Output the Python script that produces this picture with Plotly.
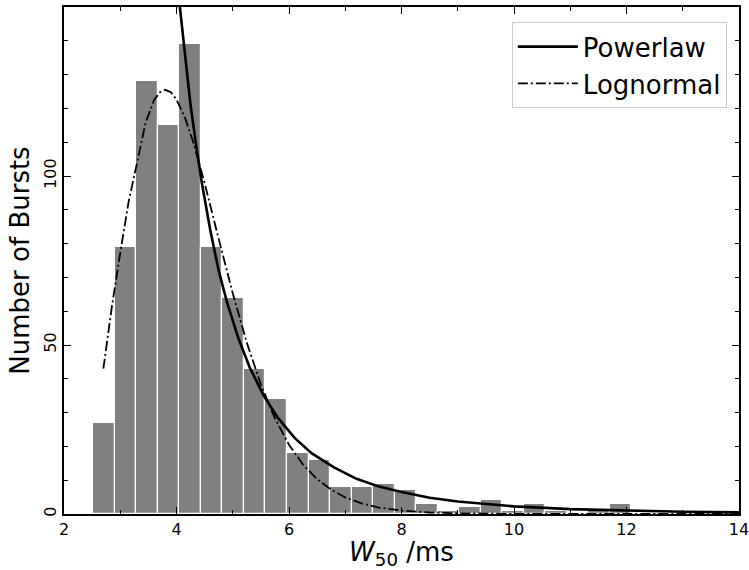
import numpy as np
import plotly.graph_objects as go

# Histogram: 30 equal bins from 2.52 to 14.0 ms
bin_lo = 2.52
bin_hi = 14.0
counts = [27, 79, 128, 115, 139, 79, 64, 43, 34, 18,
          16, 8, 8, 9, 7, 3, 1, 2, 4, 1,
          3, 1, 0, 1, 3, 0, 0, 0, 0, 1]

# Powerlaw fit curve
pl_x = [4.06, 4.15, 4.25, 4.35, 4.45, 4.6, 4.75, 4.9, 5.1, 5.3, 5.55, 5.8,
        6.1, 6.4, 6.8, 7.2, 7.6, 8.0, 8.5, 9.0, 9.5, 10.0, 11.0, 12.0, 13.0, 14.0]
pl_y = [150, 135.6, 121, 109, 98, 84, 72, 62.5, 52, 43.4, 35, 28.5,
        22.5, 18.0, 13.8, 10.4, 8.1, 6.5, 4.8, 3.7, 2.9, 2.25, 1.45, 0.97, 0.66, 0.47]

# Lognormal fit curve
ln_x = [2.70, 2.85, 3.0, 3.15, 3.3, 3.45, 3.6, 3.7, 3.8, 3.9, 4.0, 4.15, 4.3,
        4.5, 4.75, 5.0, 5.25, 5.5, 5.75, 6.0, 6.25, 6.5, 6.75, 7.0, 7.3, 7.6,
        8.0, 8.5, 9.0, 9.5, 10.0, 11.0, 12.0, 13.0, 14.0]
ln_y = [43, 61.2, 77.3, 92.5, 104, 115.7, 122.4, 124.7, 125.5, 124.8, 122.6, 117.3, 109.9,
        97.9, 81.4, 65.3, 50.7, 38.3, 28.3, 20.5, 14.6, 10.3, 7.2, 4.9, 3.1, 1.9,
        1.0, 0.45, 0.2, 0.085, 0.035, 0.01, 0.0, 0.0, 0.0]

x_ticks = [2, 4, 6, 8, 10, 12, 14]
y_ticks = [0, 50, 100]

edges = np.linspace(bin_lo, bin_hi, len(counts) + 1)
centers = (edges[:-1] + edges[1:]) / 2
widths = np.diff(edges)

FONT = "DejaVu Sans"

fig = go.Figure()
fig.add_trace(go.Bar(
    x=centers, y=counts, width=widths,
    marker=dict(color="#808080", line=dict(color="white", width=1.2)),
    showlegend=False, hoverinfo="skip",
))
fig.add_trace(go.Scatter(
    x=pl_x, y=pl_y, mode="lines", name="Powerlaw",
    line=dict(color="black", width=2.6),
))
fig.add_trace(go.Scatter(
    x=ln_x, y=ln_y, mode="lines", name="Lognormal",
    line=dict(color="black", width=1.8, dash="10px,3px,2px,3px"),
))

axis_common = dict(
    showline=True, linecolor="black", linewidth=1.5, mirror="ticks",
    ticks="inside", ticklen=7, tickwidth=1.3, tickcolor="black",
    showgrid=False, zeroline=False, ticklabeloverflow="allow",
    tickfont=dict(family=FONT, size=16, color="black"),
)

fig.update_layout(
    width=749, height=570,
    margin=dict(l=64, r=10, t=7, b=56, autoexpand=False),
    paper_bgcolor="white", plot_bgcolor="white",
    font=dict(family=FONT, color="black"),
    bargap=0,
    xaxis=dict(
        range=[2, 14.0001], tickvals=x_ticks,
        minor=dict(dtick=1, tick0=0, ticks="inside", ticklen=4, tickwidth=1.2, tickcolor="black"),
        title=dict(text="<i>W</i><sub>50</sub> /ms", font=dict(family=FONT, size=26), standoff=12),
        **axis_common,
    ),
    yaxis=dict(
        range=[0, 150], tickvals=y_ticks, tickangle=-90,
        minor=dict(dtick=10, tick0=0, ticks="inside", ticklen=4, tickwidth=1.2, tickcolor="black"),
        title=dict(text="Number of Bursts", font=dict(family=FONT, size=26), standoff=4),
        **axis_common,
    ),
    legend=dict(
        x=0.982, y=0.97, xanchor="right", yanchor="top",
        bgcolor="rgba(255,255,255,0.8)", bordercolor="#cccccc", borderwidth=1,
        font=dict(family=FONT, size=26, color="black"),
        itemwidth=60, tracegroupgap=2,
    ),
)

fig.write_html(
    "out.html",
    config={"displayModeBar": False},
    post_script="document.body.style.margin='0';document.body.style.overflow='hidden';",
)
